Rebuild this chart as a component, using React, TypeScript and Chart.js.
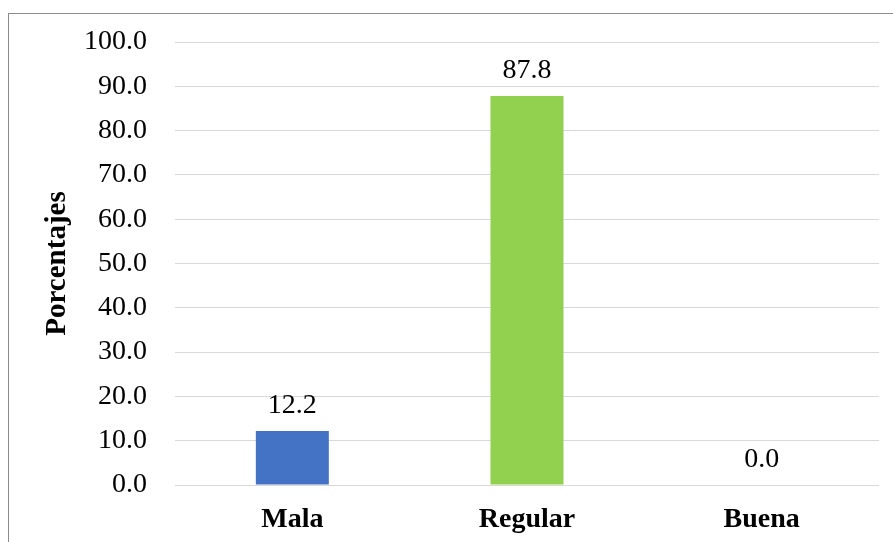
import React, { useEffect, useRef } from "react";
import { Chart, registerables } from "chart.js";

Chart.register(...registerables);

const categories = ["Mala", "Regular", "Buena"];
const percentages = [12.2, 87.8, 0.0];
const barColors = ["#4472C4", "#92D050", "#A5A5A5"];
const yTitle = "Porcentajes";
const yMin = 0;
const yMax = 100;
const yStep = 10;

const FONT = "'Liberation Serif', 'Times New Roman', serif";

const dataLabelPlugin = {
  id: "dataLabels",
  afterDatasetsDraw(chart: any) {
    const ctx = chart.ctx;
    ctx.save();
    ctx.font = `28px ${FONT}`;
    ctx.fillStyle = "#000000";
    ctx.textAlign = "center";
    ctx.textBaseline = "alphabetic";
    chart.data.datasets.forEach((ds: any, di: number) => {
      const meta = chart.getDatasetMeta(di);
      meta.data.forEach((bar: any, i: number) => {
        const v = ds.data[i] as number;
        ctx.fillText(v.toFixed(1), bar.x, bar.y - 18);
      });
    });
    ctx.restore();
  },
};

export default function App() {
  const canvasRef = useRef<HTMLCanvasElement | null>(null);

  useEffect(() => {
    if (!canvasRef.current) return;
    const chart = new Chart(canvasRef.current, {
      type: "bar",
      data: {
        labels: categories,
        datasets: [
          {
            data: percentages,
            backgroundColor: barColors,
            borderWidth: 0,
            barPercentage: 0.311,
            categoryPercentage: 1,
          },
        ],
      },
      options: {
        animation: false,
        responsive: true,
        maintainAspectRatio: false,
        layout: { padding: { top: 28, right: 14, bottom: 0, left: 0 } },
        plugins: {
          legend: { display: false },
          tooltip: { enabled: false },
          title: { display: false },
        },
        scales: {
          x: {
            grid: { display: false, drawTicks: false },
            border: { display: false },
            ticks: {
              padding: 18,
              color: "#000000",
              font: { family: FONT, size: 28, weight: "bold" },
            },
            afterFit(scale: any) {
              scale.height = 57;
              scale.paddingLeft = 0;
              scale.paddingRight = 0;
            },
          },
          y: {
            min: yMin,
            max: yMax,
            grid: { color: "#d9d9d9", lineWidth: 1, drawTicks: false },
            border: { display: false },
            ticks: {
              stepSize: yStep,
              padding: 28,
              color: "#000000",
              font: { family: FONT, size: 28 },
              callback: (v: any) => Number(v).toFixed(1),
            },
            title: {
              display: true,
              text: yTitle,
              color: "#000000",
              font: { family: FONT, size: 29, weight: "bold" },
              padding: { top: 31, bottom: 0 },
            },
            afterFit(scale: any) {
              scale.width = 166;
              scale.paddingTop = 0;
              scale.paddingBottom = 0;
            },
          },
        },
      },
      plugins: [dataLabelPlugin],
    });
    return () => chart.destroy();
  }, []);

  return (
    <div
      style={{
        position: "fixed",
        left: 8,
        top: 13,
        width: 900,
        height: 540,
        borderLeft: "1px solid #8c8c8c",
        borderTop: "1px solid #8c8c8c",
        background: "#ffffff",
      }}
    >
      <div style={{ position: "relative", width: 884, height: 528 }}>
        <canvas ref={canvasRef} />
      </div>
    </div>
  );
}
